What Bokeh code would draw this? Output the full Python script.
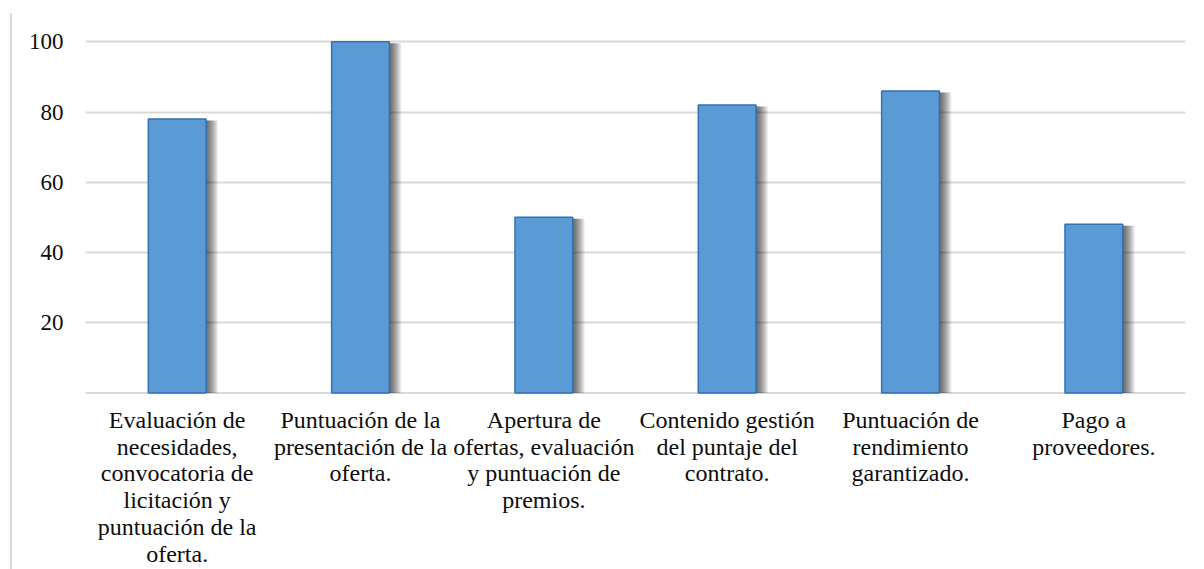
from bokeh.plotting import figure
from bokeh.layouts import row
from bokeh.models import FactorRange, Range1d, FixedTicker, ColumnDataSource, Span, Div
from bokeh.core.properties import value
from bokeh.transform import dodge
from bokeh.embed import file_html
from bokeh.resources import INLINE

# Process stages (x categories) and their scores
categories = [
    "Evaluación de necesidades, convocatoria de licitación y puntuación de la oferta.",
    "Puntuación de la presentación de la oferta.",
    "Apertura de ofertas, evaluación y puntuación de premios.",
    "Contenido gestión del puntaje del contrato.",
    "Puntuación de rendimiento garantizado.",
    "Pago a proveedores.",
]
scores = [78, 100, 50, 82, 86, 48]

# Wrapped category labels, one per stage
axis_labels = [
    "Evaluación de\nnecesidades,\nconvocatoria de\nlicitación y\npuntuación de la\noferta.",
    "Puntuación de la\npresentación de la\noferta.",
    "Apertura de\nofertas, evaluación\ny puntuación de\npremios.",
    "Contenido gestión\ndel puntaje del\ncontrato.",
    "Puntuación de\nrendimiento\ngarantizado.",
    "Pago a\nproveedores.",
]
y_ticks = [20, 40, 60, 80, 100]

FONT = "Liberation Serif"
GRID = "#d9d9d9"
TEXT = "#0d0d0d"

RULE_W = 12            # strip holding the thin rule on the left
PLOT_W = 1204 - RULE_W
PLOT_H = 569
TOP = 38               # space above the plotting area
LEFT = 85              # left edge of the plotting area on the page
FRAME_W = 1100
FRAME_H = PLOT_H - TOP
PX_PER_UNIT = 3.511    # vertical pixels per score point
Y_END = 100.94
Y_START = Y_END - FRAME_H / PX_PER_UNIT   # room below zero for the stage labels

p = figure(
    width=PLOT_W, height=PLOT_H,
    x_range=FactorRange(*categories),
    y_range=Range1d(Y_START, Y_END),
    x_axis_location=None,
    output_backend="svg", toolbar_location=None,
    min_border_left=LEFT - RULE_W, min_border_right=PLOT_W - (LEFT - RULE_W) - FRAME_W,
    min_border_top=TOP, min_border_bottom=0,
    background_fill_color="white", border_fill_color="white",
    margin=0,
)
p.outline_line_color = None

px_x = len(categories) / FRAME_W
px_y = 1.0 / PX_PER_UNIT

src = ColumnDataSource(dict(
    cat=categories,
    score=scores,
    label=axis_labels,
    shadow_top=[s - 1.5 * px_y for s in scores],
))

# grid
p.xgrid.grid_line_color = None
p.ygrid.ticker = FixedTicker(ticks=y_ticks)
p.ygrid.grid_line_color = GRID
p.ygrid.grid_line_width = 2
p.add_layout(Span(location=0, dimension="width", line_color=GRID, line_width=2,
                  level="underlay"))

# soft grey shadow to the right of every bar
for k in range(1, 13):
    p.vbar(x=dodge("cat", k * px_x, range=p.x_range), top="shadow_top", bottom=0,
           width=0.315, source=src, fill_color="black", fill_alpha=0.065,
           line_color=None)

p.vbar(x="cat", top="score", bottom=0, width=0.315, source=src,
       fill_color="#5b9bd5", line_color="#3272b3", line_width=1.5)

# stage names under the baseline
p.text(x="cat", y=0, text="label", source=src, y_offset=14,
       text_align="center", text_baseline="top",
       text_font=value(FONT), text_font_size="24px", text_color=TEXT,
       text_line_height=1.03)

ya = p.yaxis[0]
ya.ticker = FixedTicker(ticks=y_ticks)
ya.axis_line_color = None
ya.major_tick_line_color = None
ya.minor_tick_line_color = None
ya.major_tick_out = 0
ya.major_tick_in = 0
ya.major_label_standoff = 22
ya.major_label_text_font = FONT
ya.major_label_text_font_size = "23px"
ya.major_label_text_color = TEXT

# thin rule at the left edge of the chart area
rule = Div(text="", width=RULE_W, height=PLOT_H - 13, margin=(13, 0, 0, 0),
           styles={"border-right": "2px solid " + GRID, "box-sizing": "border-box",
                   "padding": "0px"})

layout = row(rule, p, spacing=0, margin=0)

open("out.html", "w").write(file_html(layout, INLINE))
